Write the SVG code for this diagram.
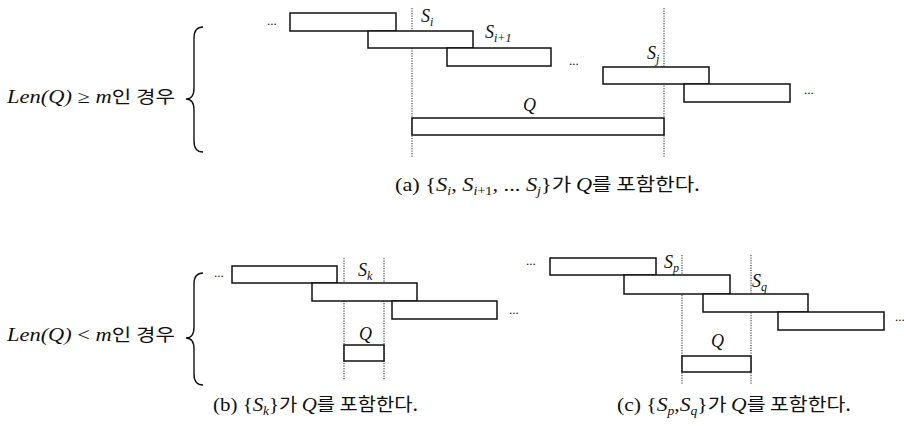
<svg xmlns="http://www.w3.org/2000/svg" width="904" height="433" viewBox="0 0 904 433">
<style>
.seg{fill:#fff;stroke:#111;stroke-width:1.5}
.guide{stroke:#222;stroke-width:1;stroke-dasharray:1.2 1.3;fill:none}
.brace{fill:none;stroke:#111;stroke-width:1.4}
.m{font-family:"Liberation Serif",serif;font-style:italic;font-size:18px;fill:#111}
.sub{font-size:12px}
.r{font-family:"Liberation Serif",serif;font-style:normal;font-size:18px;fill:#111}
.k{font-family:"Noto Sans CJK KR",sans-serif;font-style:normal;font-size:17px;fill:#111}
.cap .m,.cap .r{font-size:19px}
.cap .sub{font-size:12px}
.cap .k{font-size:18px}
.dots{font-family:"Liberation Serif",serif;font-size:13px;fill:#111}
</style>
<g id="guides">
<line class="guide" x1="412" y1="8" x2="412" y2="158"/>
<line class="guide" x1="664" y1="8" x2="664" y2="158"/>
<line class="guide" x1="344" y1="258" x2="344" y2="380"/>
<line class="guide" x1="384" y1="258" x2="384" y2="380"/>
<line class="guide" x1="682" y1="255" x2="682" y2="385"/>
<line class="guide" x1="751" y1="255" x2="751" y2="385"/>
</g>
<g id="braces">
<path class="brace" d="M203 27 Q194 27 194 38 L194 88 Q194 99 186 99 Q194 99 194 110 L194 141 Q194 152 203 152"/>
<path class="brace" d="M203 273 Q194 273 194 284 L194 327 Q194 338 186 338 Q194 338 194 349 L194 374 Q194 385 203 385"/>
</g>
<g id="case-a-label"><text x="7" y="103" textLength="168" lengthAdjust="spacingAndGlyphs"><tspan class="m">Len(Q)</tspan><tspan class="r"> ≥ </tspan><tspan class="m">m</tspan><tspan class="k">인 경우</tspan></text></g>
<g id="case-b-label"><text x="7" y="341" textLength="168" lengthAdjust="spacingAndGlyphs"><tspan class="m">Len(Q)</tspan><tspan class="r"> &lt; </tspan><tspan class="m">m</tspan><tspan class="k">인 경우</tspan></text></g>
<g id="a-s-prev"><rect class="seg" x="290" y="13" width="106" height="18"/><text class="dots" x="267" y="25">...</text></g>
<g id="a-s-i"><rect class="seg" x="368" y="31" width="105" height="17"/><text class="m" x="421" y="22">S<tspan class="sub" dy="4">i</tspan></text></g>
<g id="a-s-i1"><rect class="seg" x="447" y="48" width="104" height="18"/><text class="m" x="485" y="38">S<tspan class="sub" dy="4">i+1</tspan></text><text class="dots" x="569" y="65">...</text></g>
<g id="a-s-j"><rect class="seg" x="603" y="67" width="106" height="17"/><text class="m" x="647" y="59">S<tspan class="sub" dy="4">j</tspan></text></g>
<g id="a-s-next"><rect class="seg" x="684" y="84" width="106" height="18"/><text class="dots" x="804" y="94">...</text></g>
<g id="a-q"><rect class="seg" x="412" y="118" width="252" height="17"/><text class="m" x="523" y="111">Q</text></g>
<g id="b-s-prev"><rect class="seg" x="232" y="266" width="105" height="17"/><text class="dots" x="214" y="277">...</text></g>
<g id="b-s-k"><rect class="seg" x="312" y="283" width="105" height="18"/><text class="m" x="358" y="276">S<tspan class="sub" dy="4">k</tspan></text></g>
<g id="b-s-next"><rect class="seg" x="392" y="301" width="105" height="18"/><text class="dots" x="509" y="314">...</text></g>
<g id="b-q"><rect class="seg" x="344" y="345" width="40" height="16"/><text class="m" x="359" y="340">Q</text></g>
<g id="c-s-prev"><rect class="seg" x="550" y="258" width="106" height="17"/><text class="dots" x="526" y="265">...</text></g>
<g id="c-s-p"><rect class="seg" x="624" y="275" width="106" height="19"/><text class="m" x="664" y="268">S<tspan class="sub" dy="4">p</tspan></text></g>
<g id="c-s-q"><rect class="seg" x="703" y="294" width="105" height="18"/><text class="m" x="752" y="287">S<tspan class="sub" dy="4">q</tspan></text></g>
<g id="c-s-next"><rect class="seg" x="778" y="312" width="106" height="18"/><text class="dots" x="895" y="321">...</text></g>
<g id="c-q"><rect class="seg" x="682" y="356" width="69" height="16"/><text class="m" x="711" y="347">Q</text></g>
<g id="caption-a" class="cap"><text x="395" y="191" textLength="305" lengthAdjust="spacingAndGlyphs"><tspan class="r">(a) {</tspan><tspan class="m">S</tspan><tspan class="m sub" dy="4">i</tspan><tspan class="r" dy="-4">, </tspan><tspan class="m">S</tspan><tspan class="m sub" dy="4">i</tspan><tspan class="r sub">+1</tspan><tspan class="r" dy="-4">, ... </tspan><tspan class="m">S</tspan><tspan class="m sub" dy="4">j</tspan><tspan class="r" dy="-4">}</tspan><tspan class="k">가 </tspan><tspan class="m">Q</tspan><tspan class="k">를 포함한다.</tspan></text></g>
<g id="caption-b" class="cap"><text x="213" y="411" textLength="205" lengthAdjust="spacingAndGlyphs"><tspan class="r">(b) {</tspan><tspan class="m">S</tspan><tspan class="m sub" dy="4">k</tspan><tspan class="r" dy="-4">}</tspan><tspan class="k">가 </tspan><tspan class="m">Q</tspan><tspan class="k">를 포함한다.</tspan></text></g>
<g id="caption-c" class="cap"><text x="617" y="411" textLength="234" lengthAdjust="spacingAndGlyphs"><tspan class="r">(c) {</tspan><tspan class="m">S</tspan><tspan class="m sub" dy="4">p</tspan><tspan class="r" dy="-4">,</tspan><tspan class="m">S</tspan><tspan class="m sub" dy="4">q</tspan><tspan class="r" dy="-4">}</tspan><tspan class="k">가 </tspan><tspan class="m">Q</tspan><tspan class="k">를 포함한다.</tspan></text></g>
</svg>
